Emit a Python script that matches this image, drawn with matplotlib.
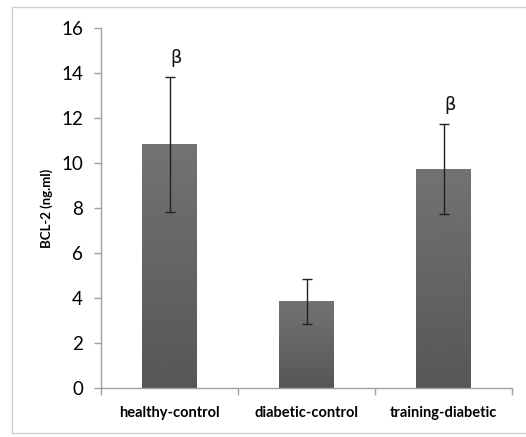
'''Bar chart of BCL-2 levels per group with SD error bars'''

import numpy as np
import matplotlib
matplotlib.use('Agg')
import matplotlib.pyplot as plt
from matplotlib.lines import Line2D

groups = ['healthy-control', 'diabetic-control', 'training-diabetic']
bcl2_mean = [10.83, 3.85, 9.73]
bcl2_err = [3.0, 1.0, 2.0]
marks = ['β', '', 'β']
yticks = [0, 2, 4, 6, 8, 10, 12, 14, 16]

plt.rcParams['font.family'] = ['Lato', 'DejaVu Sans']

fig = plt.figure(figsize=(5.26, 4.37), dpi=100)
# light frame around the chart area: left, top and bottom edges only
fx0, fy0, fy1 = 12 / 526, 4 / 437, 430 / 437
for xs, ys in [([fx0, fx0], [fy0, fy1]), ([fx0, 1.0], [fy1, fy1]),
               ([fx0, 1.0], [fy0, fy0])]:
    fig.add_artist(Line2D(xs, ys, transform=fig.transFigure,
                          color='#d0d0d0', lw=1.0))
ax = fig.add_axes([101 / 526, 49 / 437, 411 / 526, 360 / 437])

x = np.arange(len(groups))
width = 0.4
bars = ax.bar(x, bcl2_mean, width=width, color='#626262', zorder=2)

# vertical grey gradient inside each bar
grad = np.linspace(0.45, 0.34, 256).reshape(-1, 1)
for b in bars:
    x0, y0 = b.get_x(), b.get_y()
    w, h = b.get_width(), b.get_height()
    ax.imshow(grad, cmap='gray', vmin=0, vmax=1, aspect='auto',
              extent=[x0, x0 + w, y0, y0 + h], origin='upper',
              interpolation='bicubic', zorder=2.5)

ax.errorbar(x, bcl2_mean, yerr=bcl2_err, fmt='none', ecolor='#222222',
            elinewidth=1.0, capsize=3.5, capthick=1.0, zorder=3)

for xi, m, e, t in zip(x, bcl2_mean, bcl2_err, marks):
    if t:
        ax.text(xi + 0.05, m + e + 0.45, t, ha='center', va='bottom',
                fontsize=13, family=['DejaVu Sans'], color='#111111')

ax.set_xlim(-0.5, len(groups) - 0.5)
ax.set_ylim(0, 16)
ax.set_yticks(yticks)
ax.set_yticklabels([str(v) for v in yticks], fontsize=13.5)
ax.set_xticks(x)
ax.set_xticklabels(groups, fontsize=10.5, fontweight='bold')
ax.set_xticks(np.arange(len(groups) + 1) - 0.5, minor=True)
ax.tick_params(axis='x', which='major', length=0, pad=13)
ax.tick_params(axis='x', which='minor', length=5, color='#a0a0a0', width=1)
ax.tick_params(axis='y', length=5, color='#a0a0a0', width=1, pad=8)
ax.set_ylabel('BCL-2 (ng.ml)', fontsize=9.5, fontweight='bold', labelpad=6)

for s in ['top', 'right']:
    ax.spines[s].set_visible(False)
for s in ['left', 'bottom']:
    ax.spines[s].set_color('#a0a0a0')
    ax.spines[s].set_linewidth(1.0)

plt.savefig('out.png', dpi=100)
